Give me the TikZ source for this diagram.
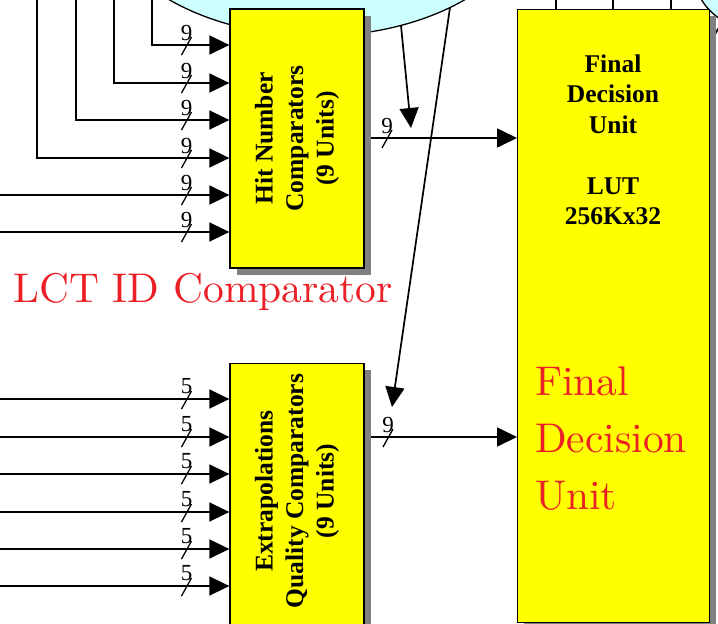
\documentclass[tikz,border=0pt]{standalone}
\usepackage{fontspec}
\newfontfamily\tnr{Liberation Serif}
\newfontfamily\lmten{lmroman10-regular}[Extension=.otf]
\usetikzlibrary{arrows.meta,shadows}
\definecolor{boxyellow}{RGB}{255,255,0}
\definecolor{shadowgray}{RGB}{128,128,128}
\definecolor{lightcyan}{RGB}{204,255,255}
\definecolor{lblred}{RGB}{235,32,38}
\begin{document}
\begin{tikzpicture}[x=1pt,y=-1pt,
  conn/.style={line width=1.7pt},
  thinconn/.style={line width=1.1pt},
  arr/.style={conn,-{Triangle[length=20pt,width=19pt]}},
  unitbox/.style={draw=black,line width=1.3pt,fill=boxyellow,
    general shadow={fill=shadowgray,shadow xshift=6.5pt,shadow yshift=-6.5pt},inner sep=0pt},
  boxtext/.style={font=\tnr\bfseries\fontsize{25.5}{30.5}\selectfont,align=center,inner sep=0pt},
  buslabel/.style={font=\tnr\fontsize{23}{26}\selectfont,inner sep=0pt,anchor=base},
  slash/.style={line width=1.3pt},
  redtext/.style={text=lblred,font=\lmten\fontsize{41.5}{57}\selectfont,inner sep=0pt}]
\useasboundingbox (0,0) rectangle (718,624);
\clip (0,0) rectangle (718,624);
% background ellipses
\draw[fill=lightcyan,line width=1.3pt] (317,-104) ellipse [x radius=220,y radius=140];
\draw[fill=lightcyan,line width=1.3pt] (796,-20) ellipse [x radius=100,y radius=60];
\coordinate (s1) at (722,22);
\coordinate (s2) at (714,36);
\draw[conn] (s1) -- (s2);
% boxes
\node[unitbox,minimum width=134pt,minimum height=259pt] (hit) at (297,138.5) {};
\node[unitbox,minimum width=134pt,minimum height=300pt,anchor=north] (ext) at (297,363) {};
\node[unitbox,minimum width=192pt,minimum height=613pt,anchor=north west] (fdu) at (517,9) {};
% box texts
\node[boxtext,rotate=90] (hittext) at (hit.center) {Hit Number\\Comparators\\(9 Units)};
\node[boxtext,rotate=90] (exttext) at (297,491) {Extrapolations\\Quality Comparators\\(9 Units)};
\node[boxtext,anchor=north] (fdutext) at (613,54.5) {Final\\Decision\\Unit\\[30.5pt]LUT\\256Kx32};
% red labels
\node[redtext,anchor=base west] (lct) at (13,302) {LCT ID Comparator};
\node[redtext,anchor=north west,align=left] (fdured) at (535,366.5) {Final\\Decision\\Unit};
% lines into top of final box
\foreach \x [count=\i] in {556,613,671} {
  \coordinate (t\i) at (\x,0);
  \draw[thinconn] (t\i) -- (t\i |- fdu.north);
}
% inputs to hit number comparators
\foreach \x/\y [count=\i] in {152/45,114/83,76/120,37/158} {
  \coordinate (hin\i) at (\x,0);
  \coordinate (hy\i) at (0,\y);
  \draw[arr] (hin\i) |- (hit.west |- hy\i);
  \node[buslabel] (hl\i) at (186.5,\y-5) {9};
  \draw[slash] (181.5,\y+10) -- (191.5,\y-8);
}
\foreach \y [count=\i from 5] in {195,232} {
  \coordinate (hin\i) at (0,\y);
  \draw[arr] (hin\i) -- (hit.west |- hin\i);
  \node[buslabel] (hl\i) at (186.5,\y-5) {9};
  \draw[slash] (181.5,\y+10) -- (191.5,\y-8);
}
% inputs to extrapolation comparators
\foreach \y [count=\i] in {399,437,474,512,549,586} {
  \coordinate (ein\i) at (0,\y);
  \draw[arr] (ein\i) -- (ext.west |- ein\i);
  \node[buslabel] (el\i) at (186.5,\y-6) {5};
  \draw[slash] (181.5,\y+10) -- (191.5,\y-8);
}
% outputs
\coordinate (o1) at (0,138);
\coordinate (o2) at (0,437);
\draw[arr,shorten <=6.5pt] (hit.east |- o1) -- (fdu.west |- o1);
\draw[arr,shorten <=6.5pt] (ext.east |- o2) -- (fdu.west |- o2);
\node[buslabel] (ol1) at (387,133) {9};
\draw[slash] (382,148) -- (392,130);
\node[buslabel] (ol2) at (388,432) {9};
\draw[slash] (383,447) -- (393,429);
% lines from ellipse
\coordinate (e1) at (401,25.5);
\coordinate (e1t) at (411,128);
\draw[arr] (e1) -- (e1t);
\coordinate (e2) at (450,7.5);
\coordinate (e2t) at (392,407);
\draw[arr] (e2) -- (e2t);
\end{tikzpicture}
\end{document}
